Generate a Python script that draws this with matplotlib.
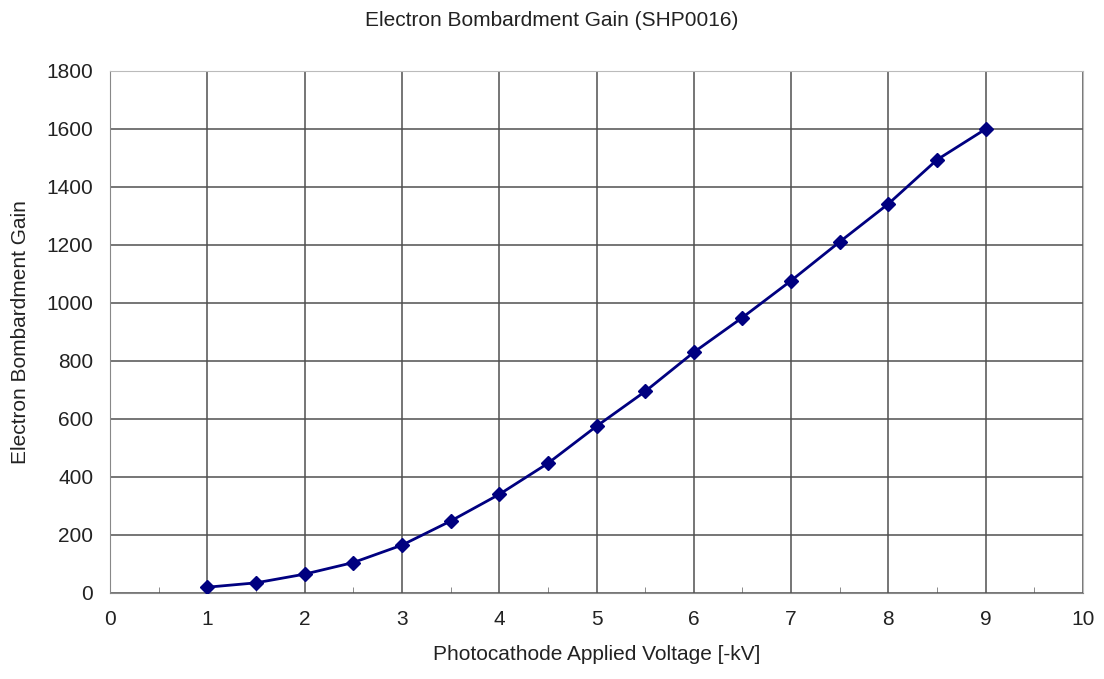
import numpy as np
import matplotlib.pyplot as plt

plt.rcParams['font.family'] = ['Liberation Sans', 'DejaVu Sans']

# Datos
voltage = [1, 1.5, 2, 2.5, 3, 3.5, 4, 4.5, 5, 5.5, 6, 6.5, 7, 7.5, 8, 8.5, 9]
gain = [20, 35, 65, 105, 165, 248, 340, 447, 575, 695, 830, 950, 1077, 1211, 1342, 1494, 1600]

x_ticks = np.arange(0, 11, 1)
y_ticks = np.arange(0, 2000, 200)

fig = plt.figure(figsize=(11.04, 6.79), dpi=100)
ax = fig.add_axes([110 / 1104, 1 - 593 / 679, (1083 - 110) / 1104, (593 - 71) / 679])

ax.plot(voltage, gain, '-', color='#000080', lw=2, marker='D', ms=7.5,
        mfc='#000080', mec='#000080', zorder=3)

ax.set_xlim(0, 10)
ax.set_ylim(0, 1800)
ax.set_xticks(x_ticks)
ax.set_yticks(y_ticks)
ax.set_xticks(np.arange(0.5, 10, 1), minor=True)
ax.grid(True, color='#505050', lw=1.1)
ax.set_axisbelow(True)

ax.tick_params(axis='both', which='major', labelsize=15, length=0, pad=12, colors='#222222')
ax.tick_params(axis='x', which='minor', direction='in', length=4, color='#777777')
ax.tick_params(axis='y', which='minor', length=0)

for side in ['top', 'right']:
    ax.spines[side].set_color('#bbbbbb')
ax.spines['left'].set_color('#888888')
ax.spines['bottom'].set_color('#888888')

ax.set_xlabel('Photocathode Applied Voltage [-kV]', fontsize=15, color='#222222', labelpad=12)
ax.set_ylabel('Electron Bombardment Gain', fontsize=15, color='#222222', labelpad=12)
fig.text(0.5, 1 - 20 / 679, 'Electron Bombardment Gain (SHP0016)', ha='center', va='center',
         fontsize=15, color='#222222')

fig.savefig('out.png', dpi=100)
